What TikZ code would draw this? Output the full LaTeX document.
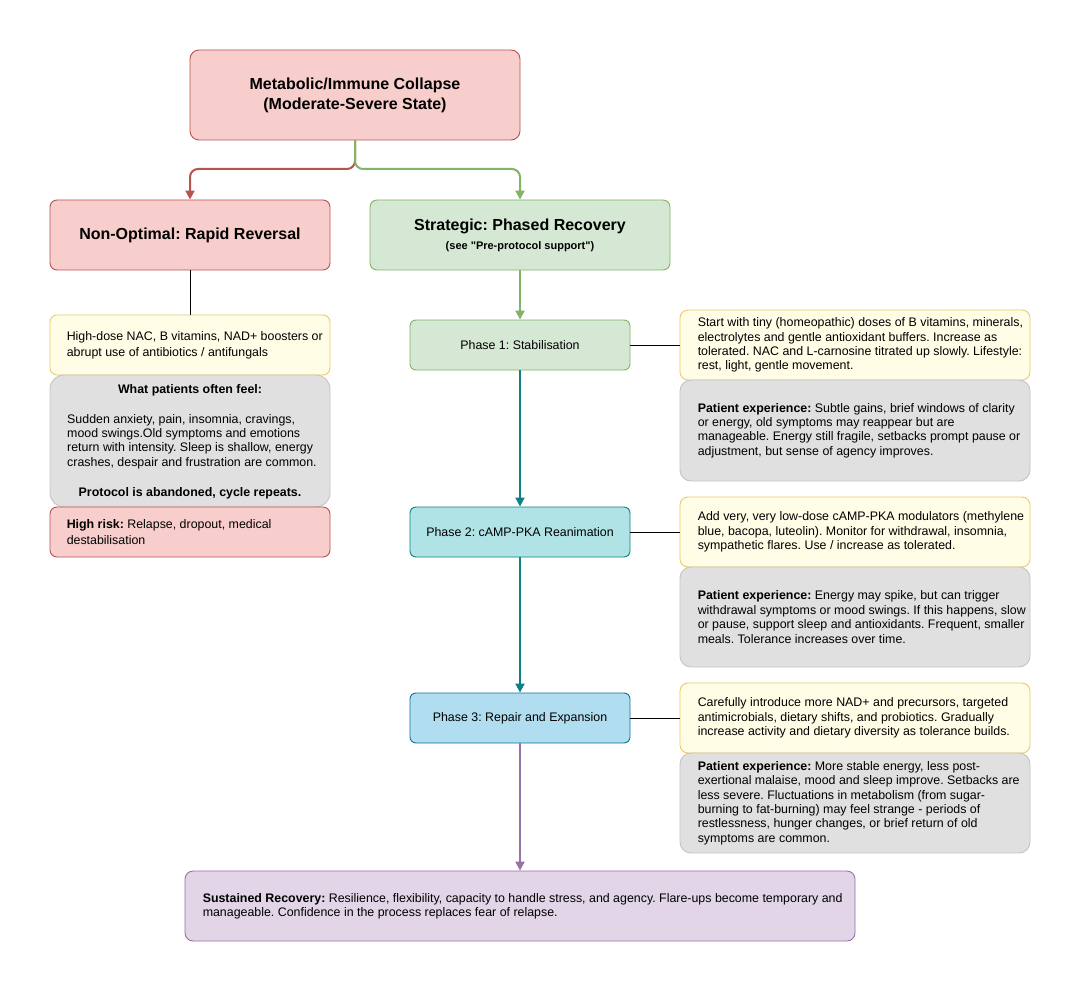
\documentclass[tikz,border=0pt]{standalone}
\usepackage{fontspec}
\setmainfont{Liberation Sans}
\frenchspacing
\newcommand\strdq{\XeTeXglyph\XeTeXcharglyph"22\relax}
\usetikzlibrary{arrows.meta,calc}
\definecolor{redF}{HTML}{F8CECC}\definecolor{redS}{HTML}{B85450}
\definecolor{grnF}{HTML}{D5E8D4}\definecolor{grnS}{HTML}{82B366}
\definecolor{tealF}{HTML}{B0E3E6}\definecolor{tealS}{HTML}{0E8088}
\definecolor{bluF}{HTML}{B1DDF0}\definecolor{bluS}{HTML}{10739E}
\definecolor{purF}{HTML}{E1D5E7}\definecolor{purS}{HTML}{9673A6}
\definecolor{ylwF}{HTML}{FFFDE6}\definecolor{ylwS}{HTML}{EBCB6B}
\definecolor{gryF}{HTML}{E0E0E0}\definecolor{gryS}{HTML}{C4C4C4}
\tikzset{
  box/.style={draw, line width=0.9pt, inner sep=0pt},
  redbox/.style={box, fill=redF, draw=redS},
  grnbox/.style={box, fill=grnF, draw=grnS},
  tealbox/.style={box, fill=tealF, draw=tealS},
  blubox/.style={box, fill=bluF, draw=bluS},
  purbox/.style={box, fill=purF, draw=purS},
  ylwbox/.style={box, fill=ylwF, draw=ylwS},
  grybox/.style={box, fill=gryF, draw=gryS},
  txt/.style={inner sep=0pt, align=left, font=\fontsize{12.4}{14.4}\selectfont},
  ctxt/.style={inner sep=0pt, align=center, font=\fontsize{12.4}{14.4}\selectfont},
  ttl/.style={inner sep=0pt, align=center, font=\fontsize{16}{20}\selectfont\bfseries},
  flow/.style={line width=2pt, -{Triangle[length=9pt,width=9pt]}, rounded corners=8pt},
  link/.style={line width=0.8pt, draw=black},
}
\begin{document}
\begin{tikzpicture}[x=1pt,y=-1pt]
\useasboundingbox (0,0) rectangle (1081,992);
\fill[white] (0,0) rectangle (1081,992);

% top
\node[redbox, rounded corners=9pt, minimum width=330pt, minimum height=90pt] (top) at (355,95) {};
\node[ttl] (topt) at (top.center) {Metabolic/Immune Collapse\\(Moderate-Severe State)};

% level 2
\node[redbox, rounded corners=7pt, minimum width=280pt, minimum height=70pt] (nonopt) at (190,235) {};
\node[ttl] (nonoptt) at (nonopt.center) {Non-Optimal: Rapid Reversal};
\node[grnbox, rounded corners=7pt, minimum width=300pt, minimum height=70pt] (strat) at (520,235) {};
\node[ttl] (stratt) at (520,226) {Strategic: Phased Recovery};
\node[inner sep=0pt, font=\fontsize{11}{13}\selectfont\bfseries] (strats) at (520,247) {(see \strdq Pre-protocol support\strdq)};

% left column
\node[ylwbox, rounded corners=7pt, minimum width=280pt, minimum height=60pt] (ly) at (190,345) {};
\node[txt, anchor=west] (lyt) at ([xshift=17pt]ly.west) {High-dose NAC, B vitamins, NAD+ boosters or\\[1.8pt]abrupt use of antibiotics / antifungals};
\node[grybox, rounded corners=14pt, minimum width=280pt, minimum height=132pt] (lg) at (190,441) {};
\node[ctxt, font=\fontsize{12.4}{14.4}\selectfont\bfseries] (lgh) at (190,390) {What patients often feel:};
\node[txt, anchor=west] (lgt) at (67,441.5) {Sudden anxiety, pain, insomnia, cravings,\\mood swings.Old symptoms and emotions\\return with intensity. Sleep is shallow, energy\\crashes, despair and frustration are common.};
\node[ctxt, font=\fontsize{12.4}{14.4}\selectfont\bfseries] (lgf) at (190,493) {Protocol is abandoned, cycle repeats.};
\node[redbox, rounded corners=7pt, minimum width=280pt, minimum height=50pt] (lr) at (190,532) {};
\node[txt, anchor=west] (lrt) at ([xshift=17pt]lr.west) {\textbf{High risk:} Relapse, dropout, medical\\[1.6pt]destabilisation};

% phases
\node[grnbox, rounded corners=6pt, minimum width=220pt, minimum height=50pt] (p1) at (520,345) {};
\node[ctxt] (p1t) at (p1.center) {Phase 1: Stabilisation};
\node[tealbox, rounded corners=6pt, minimum width=220pt, minimum height=50pt] (p2) at (520,532) {};
\node[ctxt] (p2t) at (p2.center) {Phase 2: cAMP-PKA Reanimation};
\node[blubox, rounded corners=6pt, minimum width=220pt, minimum height=50pt] (p3) at (520,718) {};
\node[ctxt] (p3t) at (p3.center) {Phase 3: Repair and Expansion};

% right column
\node[ylwbox, rounded corners=8pt, minimum width=350pt, minimum height=70pt] (y1) at (855,345) {};
\node[txt, anchor=west] (y1t) at ([xshift=18pt]y1.west) {Start with tiny (homeopathic) doses of B vitamins, minerals,\\electrolytes and gentle antioxidant buffers. Increase as\\tolerated. NAC and L-carnosine titrated up slowly. Lifestyle:\\rest, light, gentle movement.};
\node[grybox, rounded corners=11pt, minimum width=350pt, minimum height=101pt] (g1) at (855,430.5) {};
\node[txt, anchor=west] (g1t) at ([xshift=18pt]g1.west) {\textbf{Patient experience:} Subtle gains, brief windows of clarity\\or energy, old symptoms may reappear but are\\manageable. Energy still fragile, setbacks prompt pause or\\adjustment, but sense of agency improves.};

\node[ylwbox, rounded corners=8pt, minimum width=350pt, minimum height=70pt] (y2) at (855,532) {};
\node[txt, anchor=west] (y2t) at ([xshift=18pt]y2.west) {Add very, very low-dose cAMP-PKA modulators (methylene\\blue, bacopa, luteolin). Monitor for withdrawal, insomnia,\\sympathetic flares. Use / increase as tolerated.};
\node[grybox, rounded corners=11pt, minimum width=350pt, minimum height=100pt] (g2) at (855,617) {};
\node[txt, anchor=west] (g2t) at ([xshift=18pt]g2.west) {\textbf{Patient experience:} Energy may spike, but can trigger\\withdrawal symptoms or mood swings. If this happens, slow\\or pause, support sleep and antioxidants. Frequent, smaller\\meals. Tolerance increases over time.};

\node[ylwbox, rounded corners=8pt, minimum width=350pt, minimum height=70pt] (y3) at (855,718) {};
\node[txt, anchor=west] (y3t) at ([xshift=18pt]y3.west) {Carefully introduce more NAD+ and precursors, targeted\\antimicrobials, dietary shifts, and probiotics. Gradually\\increase activity and dietary diversity as tolerance builds.};
\node[grybox, rounded corners=11pt, minimum width=350pt, minimum height=100pt] (g3) at (855,803) {};
\node[txt, anchor=west] (g3t) at ([xshift=18pt]g3.west) {\textbf{Patient experience:} More stable energy, less post-\\exertional malaise, mood and sleep improve. Setbacks are\\less severe. Fluctuations in metabolism (from sugar-\\burning to fat-burning) may feel strange - periods of\\restlessness, hunger changes, or brief return of old\\symptoms are common.};

% final
\node[purbox, rounded corners=8pt, minimum width=670pt, minimum height=70pt] (fin) at (520,906) {};
\node[txt, anchor=west] (fint) at ([xshift=18pt]fin.west) {\textbf{Sustained Recovery:} Resilience, flexibility, capacity to handle stress, and agency. Flare-ups become temporary and\\manageable. Confidence in the process replaces fear of relapse.};

% connectors
\draw[flow, redS] (top.south) -- (355,169) -- (190,169) -- (nonopt.north);
\draw[flow, grnS] (top.south) -- (355,169) -- (520,169) -- (strat.north);
\draw[flow, grnS] (strat.south) -- (p1.north);
\draw[flow, tealS] (p1.south) -- (p2.north);
\draw[flow, tealS] (p2.south) -- (p3.north);
\draw[flow, purS] (p3.south) -- (fin.north);
\draw[link] (nonopt.south) -- (ly.north);
\draw[link] (p1.east) -- (y1.west);
\draw[link] (p2.east) -- (y2.west);
\draw[link] (p3.east) -- (y3.west);
\end{tikzpicture}
\end{document}
